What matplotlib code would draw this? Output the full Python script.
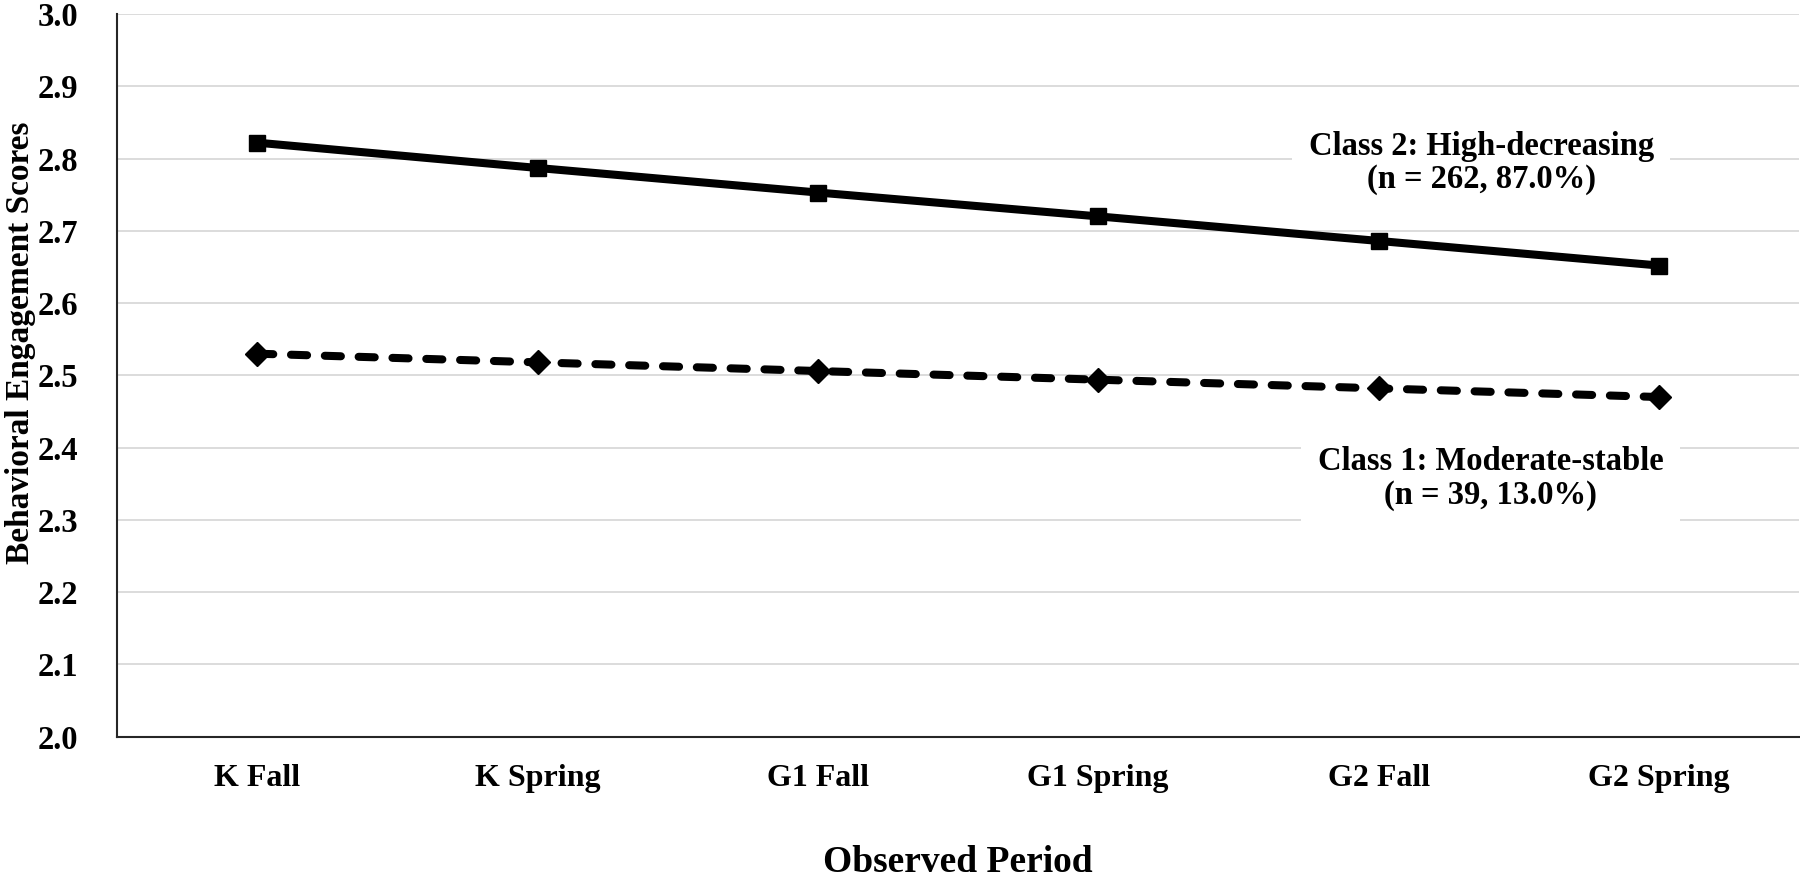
import numpy as np
import matplotlib.pyplot as plt

periods = ['K Fall', 'K Spring', 'G1 Fall', 'G1 Spring', 'G2 Fall', 'G2 Spring']
class2 = [2.822, 2.787, 2.753, 2.720, 2.686, 2.652]
class1 = [2.530, 2.518, 2.506, 2.494, 2.482, 2.470]
class2_label = 'Class 2: High-decreasing\n(n = 262, 87.0%)'
class1_label = 'Class 1: Moderate-stable\n(n = 39, 13.0%)'
yticks = [2.0, 2.1, 2.2, 2.3, 2.4, 2.5, 2.6, 2.7, 2.8, 2.9, 3.0]

plt.rcParams['font.family'] = ['Liberation Serif', 'DejaVu Serif']
plt.rcParams['font.weight'] = 'bold'

fig = plt.figure(figsize=(18, 8.77), dpi=100)
ax = fig.add_axes([0.065, 0.160, 0.9345, 0.824])

x = np.arange(len(periods))
ax.plot(x, class2, color='black', lw=5.8, marker='s', ms=11,
        solid_capstyle='butt', zorder=3)
ax.plot(x, class1, color='black', lw=5.8, marker='D', ms=12,
        dashes=(2.0, 2.2), dash_capstyle='round', zorder=3)

ax.set_xlim(-0.5, len(periods) - 0.5)
ax.set_ylim(2.0, 3.0)
ax.set_yticks(yticks)
ax.set_yticklabels([f'{v:.1f}' for v in yticks])
ax.set_xticks(x)
ax.set_xticklabels(periods)
ax.tick_params(axis='both', length=0)
ax.tick_params(axis='x', pad=20, labelsize=23)
ax.tick_params(axis='y', pad=28, labelsize=23.5)

ax.grid(axis='y', color='#d9d9d9', lw=1.3)
ax.set_axisbelow(True)
for s in ['top', 'right']:
    ax.spines[s].set_visible(False)
for s in ['left', 'bottom']:
    ax.spines[s].set_color('#262626')
    ax.spines[s].set_linewidth(1.5)

box = dict(facecolor='white', edgecolor='none', pad=12)
ax.text(4.366, 2.794, class2_label, ha='center', va='center', fontsize=23.5,
        linespacing=1.1, bbox=box, zorder=2)
ax.text(4.40, 2.357, class1_label, ha='center', va='center', fontsize=23.5,
        linespacing=1.1, bbox=box, zorder=2)

ax.set_xlabel('Observed Period', fontsize=27, fontweight='bold')
ax.set_ylabel('Behavioral Engagement Scores', fontsize=24, fontweight='bold')
ax.xaxis.set_label_coords(0.5, -0.150)
ax.yaxis.set_label_coords(-0.048, 0.545)

fig.savefig('out.png', dpi=100)
